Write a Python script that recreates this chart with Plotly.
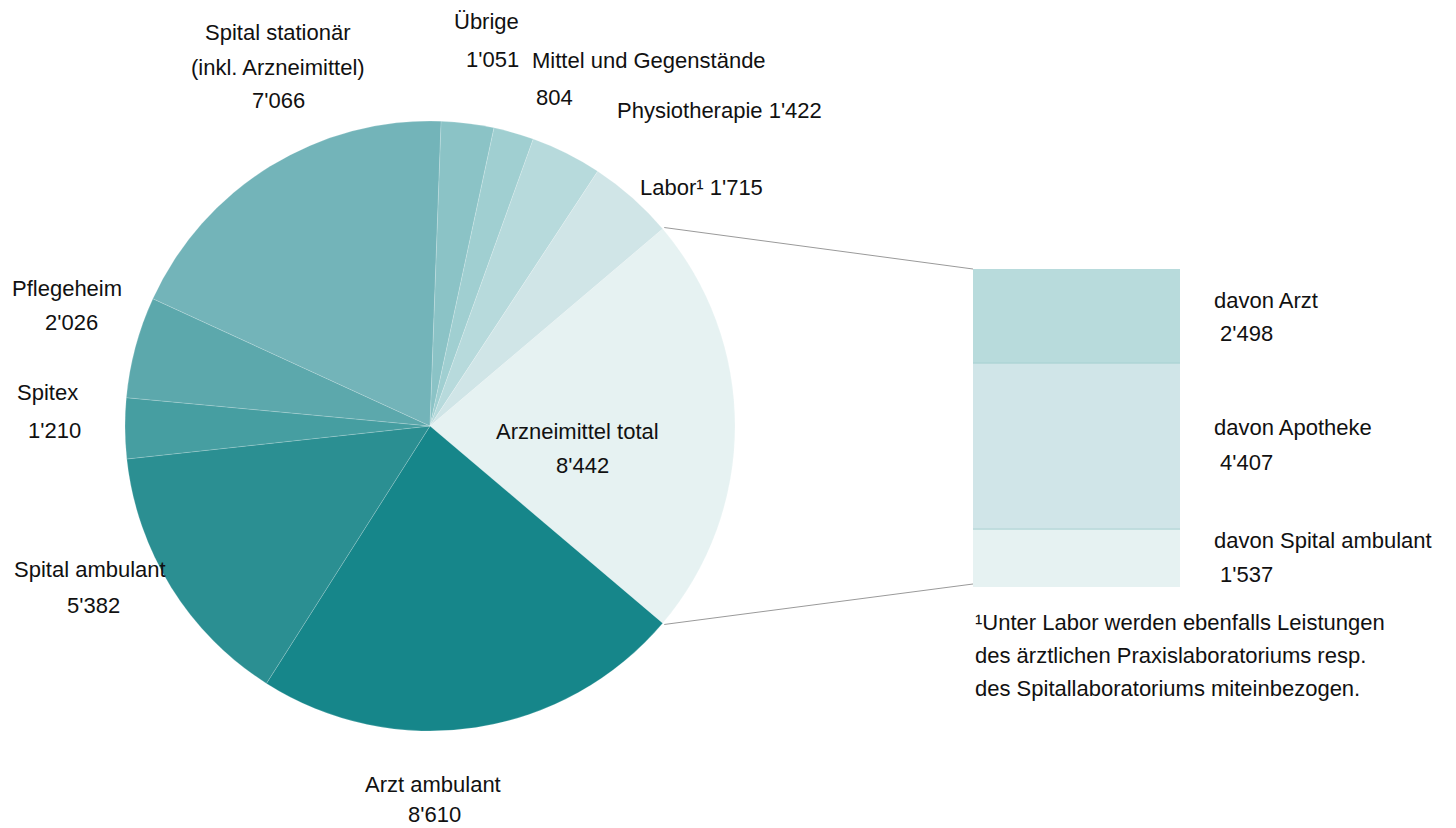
import math
import plotly.graph_objects as go

# ---------------- data ----------------
categories = ["Arzneimittel total", "Arzt ambulant", "Spital ambulant", "Spitex", "Pflegeheim",
              "Spital stationär (inkl. Arzneimittel)", "Übrige", "Mittel und Gegenstände",
              "Physiotherapie", "Labor¹"]
values = [8442, 8610, 5382, 1210, 2026, 7066, 1051, 804, 1422, 1715]
colors = ["#e6f2f2", "#16868a", "#2b8f92", "#469ea1", "#5ca8ac",
          "#73b4b9", "#8bc3c6", "#a0cfd1", "#b7dadc", "#d0e5e7"]

sub_categories = ["davon Spital ambulant", "davon Apotheke", "davon Arzt"]
sub_values = [1537, 4407, 2498]
sub_colors = ["#e6f2f2", "#d0e5e8", "#b8dbdc"]

footnote = ["¹Unter Labor werden ebenfalls Leistungen",
            "des ärztlichen Praxislaboratoriums resp.",
            "des Spitallaboratoriums miteinbezogen."]


def fmt(v):
    return f"{v:,}".replace(",", "'")


W, H = 1456, 828


def px(x):
    return x / W


def py(y):
    return 1 - y / H


FONT = dict(family="Liberation Sans, Arial, sans-serif", size=22, color="#111111")

# pie geometry (pixels)
CX, CY, R = 430, 426, 305
total = sum(values)
rotation = 90 - 180 * values[0] / total

# bar geometry (pixels)
BX0, BX1, BY0, BY1 = 973, 1180, 269, 587

fig = go.Figure()
fig.add_trace(go.Pie(
    labels=categories, values=values, sort=False, direction="clockwise",
    rotation=rotation, textinfo="none", hoverinfo="label+value",
    marker=dict(colors=colors, line=dict(color="rgba(255,255,255,0.35)", width=0.5)),
    domain=dict(x=[px(CX - R), px(CX + R)], y=[py(CY + R), py(CY - R)]),
    showlegend=False,
))

for name, v, c in zip(sub_categories, sub_values, sub_colors):
    fig.add_trace(go.Bar(
        x=[0], y=[v], name=name, width=1, marker=dict(color=c, line=dict(width=0)),
        xaxis="x", yaxis="y", showlegend=False, hoverinfo="name+y",
    ))

sub_total = sum(sub_values)
fig.update_layout(
    width=W, height=H, margin=dict(l=0, r=0, t=0, b=0),
    paper_bgcolor="white", plot_bgcolor="white",
    barmode="stack", bargap=0,
    xaxis=dict(domain=[px(BX0), px(BX1)], range=[-0.5, 0.5], visible=False, fixedrange=True),
    yaxis=dict(domain=[py(BY1), py(BY0)], range=[0, sub_total], visible=False, fixedrange=True),
)

# separator lines between bar segments
cum = 0
for v in sub_values[:-1]:
    cum += v
    fig.add_shape(type="line", xref="x domain", yref="y", x0=0, x1=1, y0=cum, y1=cum,
                  line=dict(color="#a6d0d0", width=1))

# connector lines from pie slice edges to bar corners
a1 = math.radians(rotation)
a2 = math.radians(rotation + 360 * values[0] / total)
for a, by in [(a1, BY0), (a2, BY1 - 3)]:
    sx = CX + (R + 2) * math.sin(a)
    sy = CY - (R + 2) * math.cos(a)
    fig.add_shape(type="line", xref="paper", yref="paper",
                  x0=px(sx), y0=py(sy), x1=px(BX0), y1=py(by),
                  line=dict(color="#9a9a9a", width=1))

# labels: (text, x, y, xanchor)
labels = [
    ("Spital stationär", 278, 33, "center"),
    ("(inkl. Arzneimittel)", 278, 67, "center"),
    (fmt(values[5]), 278, 101, "center"),
    ("Übrige", 487, 21, "center"),
    (fmt(values[6]), 492, 60, "center"),
    ("Mittel und Gegenstände", 531, 61, "left"),
    (fmt(values[7]), 554, 98, "center"),
    ("Physiotherapie " + fmt(values[8]), 616, 110, "left"),
    ("Labor¹ " + fmt(values[9]), 639, 187, "left"),
    ("Pflegeheim", 11, 288, "left"),
    (fmt(values[4]), 71, 323, "center"),
    ("Spitex", 16, 392, "left"),
    (fmt(values[3]), 54, 430, "center"),
    ("Spital ambulant", 13, 569, "left"),
    (fmt(values[2]), 93, 605, "center"),
    ("Arzneimittel total", 577, 431, "center"),
    (fmt(values[0]), 582, 465, "center"),
    ("Arzt ambulant", 433, 784, "center"),
    (fmt(values[1]), 434, 814, "center"),
    ("davon Arzt", 1213, 300, "left"),
    (fmt(sub_values[2]), 1219, 333, "left"),
    ("davon Apotheke", 1213, 428, "left"),
    (fmt(sub_values[1]), 1219, 462, "left"),
    ("davon Spital ambulant", 1213, 540, "left"),
    (fmt(sub_values[0]), 1219, 574, "left"),
]
for i, line in enumerate(footnote):
    labels.append((line, 974, 622 + 33 * i, "left"))

for text, x, y, xa in labels:
    fig.add_annotation(text=text, x=px(x), y=py(y), xref="paper", yref="paper",
                       xanchor=xa, yanchor="middle", showarrow=False, font=FONT,
                       borderpad=0)

fig.write_html(
    "out.html",
    config={"displayModeBar": False},
    post_script="document.body.style.margin='0';document.body.style.overflow='hidden';",
)
